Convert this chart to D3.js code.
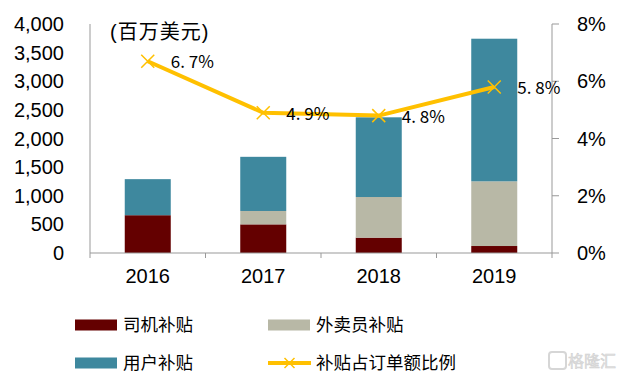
<!DOCTYPE html>
<html><head><meta charset="utf-8">
<script src="https://cdn.jsdelivr.net/npm/d3@7"></script>
<style>
html,body{margin:0;padding:0;background:#fff;}
svg{display:block;}
</style></head>
<body>
<svg id="c" width="622" height="379"></svg>
<script>
const years = ["2016","2017","2018","2019"];
const driver = [660, 500, 268, 122];
const courier = [0, 234, 710, 1130];
const user = [630, 946, 1392, 2491];
const ratio = [6.7, 4.9, 4.8, 5.8];
const ratioLabels = ["6. 7%","4. 9%","4. 8%","5. 8%"];
const leftTicks = [0,500,1000,1500,2000,2500,3000,3500,4000];
const rightTicks = [0,2,4,6,8];
const seriesNames = ["司机补贴","外卖员补贴","用户补贴","补贴占订单额比例"];
const colors = ["#640000","#B8B8A6","#3E889E","#FFC000"];

const svg = d3.select("#c");
const L = 90, R = 552, T = 24, B = 253;
const x = d3.scaleBand().domain(years).range([L,R]).padding(0);
const y = d3.scaleLinear().domain([0,4000]).range([B,T]);
const y2 = d3.scaleLinear().domain([0,8]).range([B,T]);
const bw = 46;
const numFont = "'Liberation Sans', Arial, sans-serif";
const cjkFont = "'Noto Sans CJK SC', sans-serif";

// stacked bars
const rows = years.map((yr,i)=>({yr, s0:driver[i], s1:courier[i], s2:user[i]}));
const stack = d3.stack().keys(["s0","s1","s2"])(rows);
stack.forEach((layer,k)=>{
  svg.append("g").selectAll("rect").data(layer).join("rect")
    .attr("x", d=>x(d.data.yr)+x.bandwidth()/2-bw/2)
    .attr("width", bw)
    .attr("y", d=>y(d[1]))
    .attr("height", d=>y(d[0])-y(d[1]))
    .attr("fill", colors[k]);
});

// axes
const axCol = "#999";
svg.append("line").attr("x1",L).attr("x2",L).attr("y1",T).attr("y2",B).attr("stroke",axCol);
svg.append("line").attr("x1",L).attr("x2",R).attr("y1",B).attr("y2",B).attr("stroke",axCol);
svg.append("line").attr("x1",R).attr("x2",R).attr("y1",T).attr("y2",B).attr("stroke",axCol);
const edges = years.map(d=>x(d)).concat([R]);
svg.append("g").selectAll("line").data(edges).join("line")
  .attr("x1",d=>d).attr("x2",d=>d).attr("y1",B).attr("y2",B+5).attr("stroke",axCol);
svg.append("g").selectAll("line").data(rightTicks).join("line")
  .attr("x1",R).attr("x2",R+7).attr("y1",d=>y2(d)).attr("y2",d=>y2(d)).attr("stroke",axCol);

svg.append("g").selectAll("text").data(leftTicks).join("text")
  .attr("x",64).attr("y",d=>y(d)).attr("dy","0.35em").attr("text-anchor","end")
  .attr("font-family",numFont).attr("font-size",20).attr("fill","#000")
  .text(d=>d3.format(",")(d));
svg.append("g").selectAll("text").data(rightTicks).join("text")
  .attr("x",577).attr("y",d=>y2(d)).attr("dy","0.35em").attr("text-anchor","start")
  .attr("font-family",numFont).attr("font-size",20).attr("fill","#000")
  .text(d=>d+"%");
svg.append("g").selectAll("text").data(years).join("text")
  .attr("x",d=>x(d)+x.bandwidth()/2).attr("y",276).attr("dy","0.35em").attr("text-anchor","middle")
  .attr("font-family",numFont).attr("font-size",20).attr("fill","#000")
  .text(d=>d);

svg.append("text").attr("x",110).attr("y",32).attr("dy","0.35em")
  .attr("font-family","'Liberation Sans', 'Noto Sans CJK SC', sans-serif").attr("font-size",20)
  .attr("letter-spacing",1).attr("fill","#000").text("(百万美元)");

// line
const pts = years.map((yr,i)=>[x(yr)+x.bandwidth()/2, y2(ratio[i])]);
svg.append("path").attr("d", d3.line()(pts)).attr("fill","none")
  .attr("stroke",colors[3]).attr("stroke-width",4).attr("stroke-linejoin","round");
const xm = (cx,cy,s)=>`M${cx-s},${cy-s}L${cx+s},${cy+s}M${cx-s},${cy+s}L${cx+s},${cy-s}`;
svg.append("g").selectAll("path").data(pts).join("path")
  .attr("d",d=>xm(d[0],d[1],6.5)).attr("stroke",colors[3]).attr("stroke-width",1.5).attr("fill","none");
svg.append("g").selectAll("text").data(pts).join("text")
  .attr("x",d=>d[0]+23).attr("y",(d,i)=>d[1]+1).attr("dy","0.35em")
  .attr("font-family",cjkFont).attr("font-size",17).attr("fill","#000")
  .text((d,i)=>ratioLabels[i]);

// legend
const leg = [
  {i:0, x:75, y:325},
  {i:1, x:268, y:325},
  {i:2, x:75, y:363},
  {i:3, x:268, y:363}
];
leg.forEach(l=>{
  if(l.i<3){
    svg.append("rect").attr("x",l.x).attr("y",l.y-5.5).attr("width",42).attr("height",11).attr("fill",colors[l.i]);
  } else {
    svg.append("line").attr("x1",l.x).attr("x2",l.x+43).attr("y1",l.y).attr("y2",l.y)
      .attr("stroke",colors[3]).attr("stroke-width",4);
    svg.append("path").attr("d",xm(l.x+21.5,l.y,5)).attr("stroke",colors[3]).attr("stroke-width",1.5);
  }
  svg.append("text").attr("x",l.x+48).attr("y",l.y).attr("dy","0.35em")
    .attr("font-family",cjkFont).attr("font-size",17.5).attr("fill","#000").text(seriesNames[l.i]);
});

// watermark
svg.append("rect").attr("x",549).attr("y",352).attr("width",17).attr("height",17).attr("rx",3)
  .attr("fill","none").attr("stroke","#d6d6d6").attr("stroke-width",2);
svg.append("text").attr("x",568).attr("y",361).attr("dy","0.35em")
  .attr("font-family",cjkFont).attr("font-size",16).attr("fill","#e2e2e2")
  .attr("stroke","#cfcfcf").attr("stroke-width",0.5).text("格隆汇");
</script>
</body></html>
